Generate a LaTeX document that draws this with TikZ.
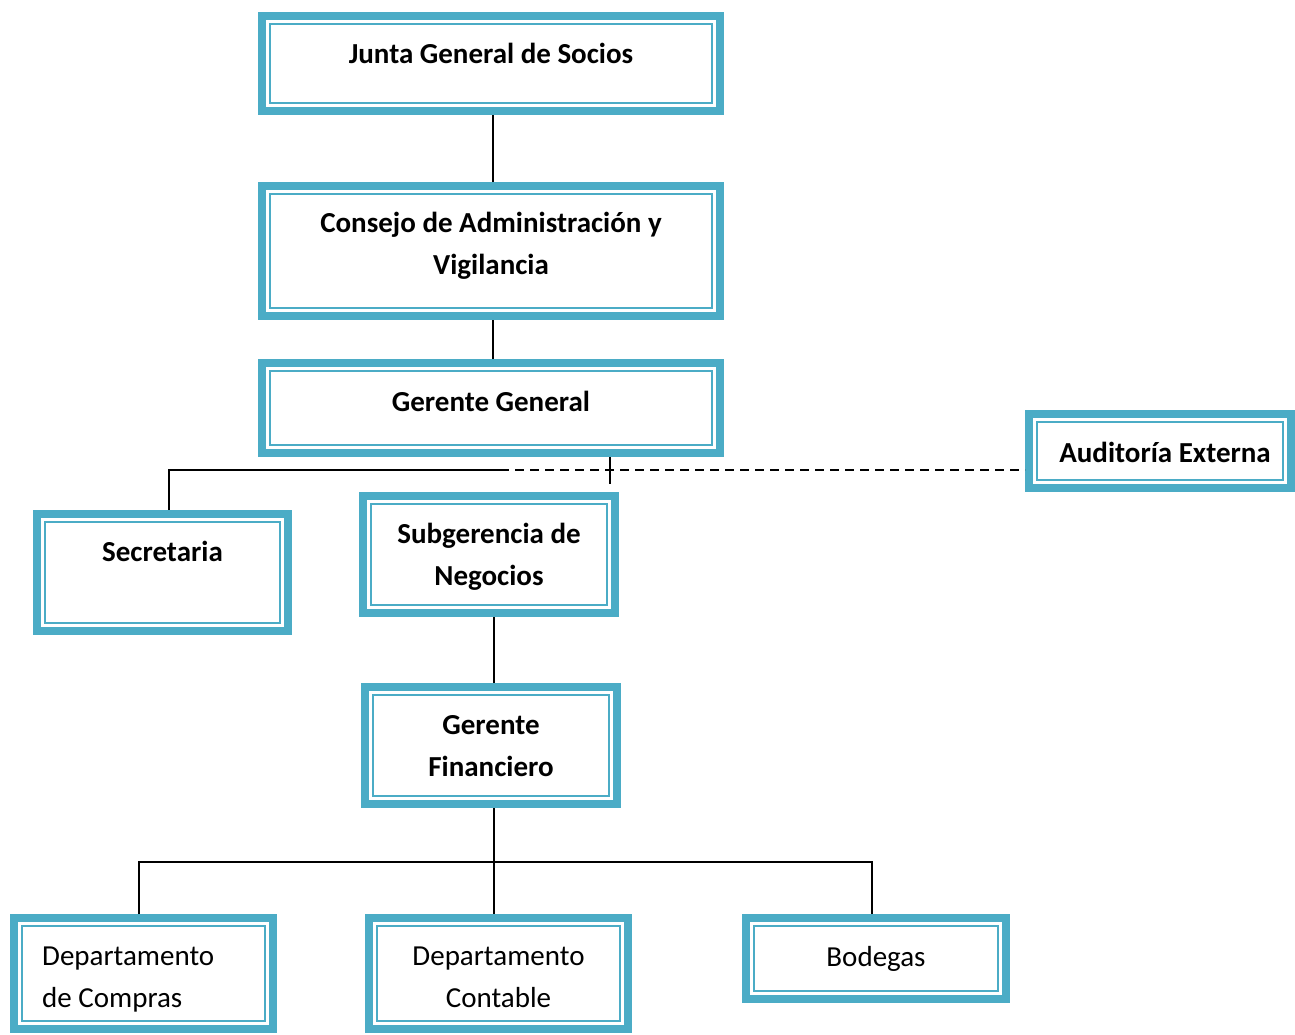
\documentclass[tikz,border=0pt]{standalone}
\usepackage{fontspec}
\setmainfont{Carlito}
\usepackage{xcolor}
\usepackage{tikz}
\usetikzlibrary{positioning, calc}

\definecolor{boxteal}{HTML}{4BACC6}

\begin{document}
\begin{tikzpicture}[
        x=1pt, y=-1pt,
        % Define styles for the boxes
        org_box/.style={rectangle, draw=boxteal, line width=8pt, fill=white, inner sep=0pt,
            path picture={\draw[boxteal, line width=2pt]
                ([shift={(8pt,-8pt)}]path picture bounding box.north west) rectangle
                ([shift={(-8pt,8pt)}]path picture bounding box.south east);}},
        box_text/.style={align=center, inner sep=0pt, font=\fontsize{29}{42}\selectfont\bfseries},
        plain_text/.style={box_text, font=\fontsize{29}{42}\selectfont},
        % Styles for connectors
        conn/.style={line width=1.6pt, black},
        dash_conn/.style={conn, dash pattern=on 9pt off 6pt}
    ]
    \useasboundingbox (0,0) rectangle (1295,1034);

    % =========================================================================
    % TOP LEVELS
    % =========================================================================
    \node (junta) [org_box, minimum width=458pt, minimum height=95pt] at (491,63.5) {};
    \node (junta_t) [box_text] at (491,53) {Junta General de Socios};

    \node (consejo) [org_box, minimum width=458pt, minimum height=130pt] at (491,251) {};
    \node (consejo_t) [box_text] at (491,246) {Consejo de Administración y\\Vigilancia};
    \draw [conn] (consejo.north -| 493,0) -- (junta.south -| 493,0);

    \node (gerente) [org_box, minimum width=458pt, minimum height=90pt] at (491,408) {};
    \node (gerente_t) [box_text] at (491,401) {Gerente General};
    \draw [conn] (gerente.north -| 493,0) -- (consejo.south -| 493,0);

    % =========================================================================
    % STAFF AND SECOND LEVEL
    % =========================================================================
    \node (auditoria) [org_box, minimum width=262pt, minimum height=74pt] at (1160,451) {};
    \node (auditoria_t) [box_text] at (1165,452) {Auditoría Externa};

    \node (secretaria) [org_box, minimum width=251pt, minimum height=117pt] at (162.5,572.5) {};
    \node (secretaria_t) [box_text] at (162.5,551) {Secretaria};

    \node (subgerencia) [org_box, minimum width=252pt, minimum height=117pt] at (489,554.5) {};
    \node (subgerencia_t) [box_text] at (489,557) {Subgerencia de\\Negocios};

    \coordinate (split) at (500,470);
    \draw [conn] (split) -| (secretaria.north -| 169,0);
    \draw [dash_conn] (split) -- (split -| auditoria.west);
    \draw [conn, shorten >=8pt] (gerente.south -| 610,0) -- (subgerencia.north -| 610,0);

    \node (financiero) [org_box, minimum width=252pt, minimum height=117pt] at (491,745.5) {};
    \node (financiero_t) [box_text] at (491,746) {Gerente\\Financiero};
    \draw [conn] (subgerencia.south -| 494,0) -- (financiero.north -| 494,0);

    % =========================================================================
    % DEPARTMENTS
    % =========================================================================
    \node (compras) [org_box, minimum width=259pt, minimum height=111pt] at (143.5,973.5) {};
    \node (compras_t) [plain_text, align=left, anchor=west] at (42,980) {Departamento\\de Compras};

    \node (contable) [org_box, minimum width=259pt, minimum height=111pt] at (498.5,973.5) {};
    \node (contable_t) [plain_text] at (498.5,977) {Departamento\\Contable};

    \node (bodegas) [org_box, minimum width=260pt, minimum height=81pt] at (876,958.5) {};
    \node (bodegas_t) [plain_text] at (876,959) {Bodegas};

    \coordinate (bus) at (494,862);
    \draw [conn] (financiero.south -| bus) -- (contable.north -| bus);
    \draw [conn] (compras.north -| 139,0) |- (bus) -| (bodegas.north -| 872,0);

\end{tikzpicture}
\end{document}
